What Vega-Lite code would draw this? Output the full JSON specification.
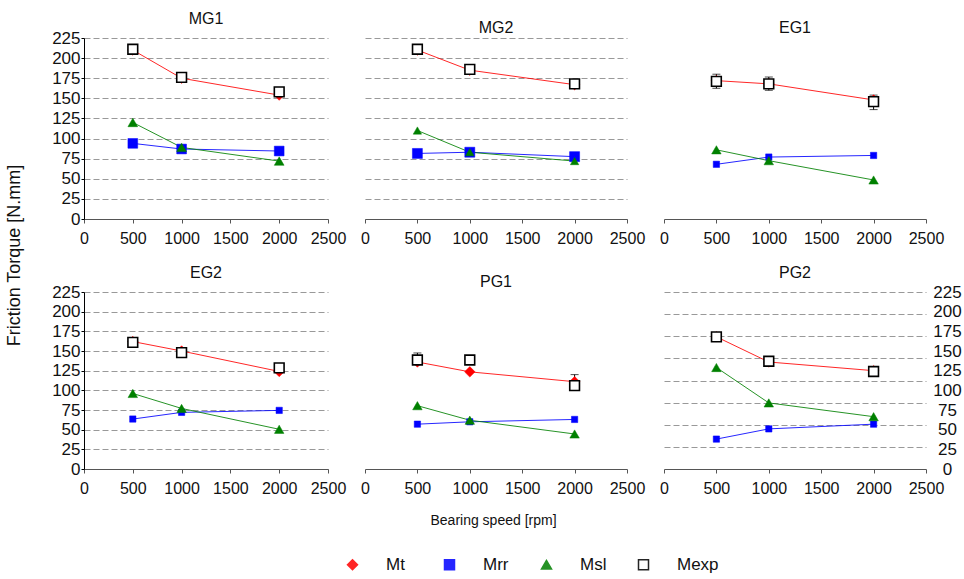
{
 "$schema": "https://vega.github.io/schema/vega-lite/v6.json",
 "padding": {"left": 5, "top": 11, "right": 2, "bottom": 2},
 "background": "white",
 "datasets": {
  "torque": [
   {"panel": "MG1", "series": "Mt", "speed": 500, "value": 210},
   {"panel": "MG1", "series": "Mt", "speed": 1000, "value": 175},
   {"panel": "MG1", "series": "Mt", "speed": 2000, "value": 154},
   {"panel": "MG1", "series": "Mrr", "speed": 500, "value": 94},
   {"panel": "MG1", "series": "Mrr", "speed": 1000, "value": 87},
   {"panel": "MG1", "series": "Mrr", "speed": 2000, "value": 84.5},
   {"panel": "MG1", "series": "Msl", "speed": 500, "value": 120},
   {"panel": "MG1", "series": "Msl", "speed": 1000, "value": 89},
   {"panel": "MG1", "series": "Msl", "speed": 2000, "value": 72},
   {"panel": "MG1", "series": "Mexp", "speed": 500, "value": 211},
   {"panel": "MG1", "series": "Mexp", "speed": 1000, "value": 176},
   {"panel": "MG1", "series": "Mexp", "speed": 2000, "value": 158},
   {"panel": "MG2", "series": "Mt", "speed": 500, "value": 210},
   {"panel": "MG2", "series": "Mt", "speed": 1000, "value": 185},
   {"panel": "MG2", "series": "Mt", "speed": 2000, "value": 167},
   {"panel": "MG2", "series": "Mrr", "speed": 500, "value": 81.5},
   {"panel": "MG2", "series": "Mrr", "speed": 1000, "value": 83},
   {"panel": "MG2", "series": "Mrr", "speed": 2000, "value": 77.5},
   {"panel": "MG2", "series": "Msl", "speed": 500, "value": 110},
   {"panel": "MG2", "series": "Msl", "speed": 1000, "value": 83},
   {"panel": "MG2", "series": "Msl", "speed": 2000, "value": 72},
   {"panel": "MG2", "series": "Mexp", "speed": 500, "value": 211},
   {"panel": "MG2", "series": "Mexp", "speed": 1000, "value": 186},
   {"panel": "MG2", "series": "Mexp", "speed": 2000, "value": 168},
   {"panel": "EG1", "series": "Mt", "speed": 500, "value": 172},
   {"panel": "EG1", "series": "Mt", "speed": 1000, "value": 168},
   {"panel": "EG1", "series": "Mt", "speed": 2000, "value": 148},
   {"panel": "EG1", "series": "Mrr", "speed": 500, "value": 68},
   {"panel": "EG1", "series": "Mrr", "speed": 1000, "value": 77},
   {"panel": "EG1", "series": "Mrr", "speed": 2000, "value": 79},
   {"panel": "EG1", "series": "Msl", "speed": 500, "value": 86},
   {"panel": "EG1", "series": "Msl", "speed": 1000, "value": 72.5},
   {"panel": "EG1", "series": "Msl", "speed": 2000, "value": 48.5},
   {"panel": "EG1", "series": "Mexp", "speed": 500, "value": 171},
   {"panel": "EG1", "series": "Mexp", "speed": 1000, "value": 168},
   {"panel": "EG1", "series": "Mexp", "speed": 2000, "value": 146},
   {"panel": "EG2", "series": "Mt", "speed": 500, "value": 162},
   {"panel": "EG2", "series": "Mt", "speed": 1000, "value": 150},
   {"panel": "EG2", "series": "Mt", "speed": 2000, "value": 124},
   {"panel": "EG2", "series": "Mrr", "speed": 500, "value": 63.5},
   {"panel": "EG2", "series": "Mrr", "speed": 1000, "value": 72},
   {"panel": "EG2", "series": "Mrr", "speed": 2000, "value": 74.5},
   {"panel": "EG2", "series": "Msl", "speed": 500, "value": 96},
   {"panel": "EG2", "series": "Msl", "speed": 1000, "value": 77},
   {"panel": "EG2", "series": "Msl", "speed": 2000, "value": 50.5},
   {"panel": "EG2", "series": "Mexp", "speed": 500, "value": 161},
   {"panel": "EG2", "series": "Mexp", "speed": 1000, "value": 148},
   {"panel": "EG2", "series": "Mexp", "speed": 2000, "value": 128.5},
   {"panel": "PG1", "series": "Mt", "speed": 500, "value": 136},
   {"panel": "PG1", "series": "Mt", "speed": 1000, "value": 123.5},
   {"panel": "PG1", "series": "Mt", "speed": 2000, "value": 111},
   {"panel": "PG1", "series": "Mrr", "speed": 500, "value": 57},
   {"panel": "PG1", "series": "Mrr", "speed": 1000, "value": 60},
   {"panel": "PG1", "series": "Mrr", "speed": 2000, "value": 63},
   {"panel": "PG1", "series": "Msl", "speed": 500, "value": 80.5},
   {"panel": "PG1", "series": "Msl", "speed": 1000, "value": 62},
   {"panel": "PG1", "series": "Msl", "speed": 2000, "value": 44.5},
   {"panel": "PG1", "series": "Mexp", "speed": 500, "value": 138.5},
   {"panel": "PG1", "series": "Mexp", "speed": 1000, "value": 138.5},
   {"panel": "PG1", "series": "Mexp", "speed": 2000, "value": 106},
   {"panel": "PG2", "series": "Mt", "speed": 500, "value": 168},
   {"panel": "PG2", "series": "Mt", "speed": 1000, "value": 136},
   {"panel": "PG2", "series": "Mt", "speed": 2000, "value": 125},
   {"panel": "PG2", "series": "Mrr", "speed": 500, "value": 38},
   {"panel": "PG2", "series": "Mrr", "speed": 1000, "value": 51},
   {"panel": "PG2", "series": "Mrr", "speed": 2000, "value": 57},
   {"panel": "PG2", "series": "Msl", "speed": 500, "value": 129},
   {"panel": "PG2", "series": "Msl", "speed": 1000, "value": 84},
   {"panel": "PG2", "series": "Msl", "speed": 2000, "value": 66.5},
   {"panel": "PG2", "series": "Mexp", "speed": 500, "value": 168},
   {"panel": "PG2", "series": "Mexp", "speed": 1000, "value": 137},
   {"panel": "PG2", "series": "Mexp", "speed": 2000, "value": 124}
  ],
  "err": [
   {"panel": "EG1", "speed": 500, "lo": 162.5, "hi": 180},
   {"panel": "EG1", "speed": 1000, "lo": 160, "hi": 176.5},
   {"panel": "EG1", "speed": 2000, "lo": 136, "hi": 154},
   {"panel": "PG1", "speed": 500, "lo": 133, "hi": 147.5},
   {"panel": "PG1", "speed": 2000, "lo": 100, "hi": 120}
  ]
 },
 "columns": 3,
 "spacing": {"row": 73, "column": 37},
 "align": "each",
 "bounds": "flush",
 "concat": [
  {
   "title": "MG1", "width": 244, "height": 181,
   "data": {"name": "torque"},
   "transform": [{"filter": "datum.panel === 'MG1'"}],
   "encoding": {
    "x": {"field": "speed", "type": "quantitative", "scale": {"domain": [0, 2500], "nice": false, "zero": false},
     "axis": {"values": [0, 500, 1000, 1500, 2000, 2500], "format": "d", "title": null, "grid": false, "tickSize": 4, "labelPadding": 7, "labelFontSize": 16, "domainColor": "#555", "tickColor": "#555"}},
    "y": {"field": "value", "type": "quantitative", "scale": {"domain": [0, 225], "nice": false},
     "axis": {"values": [0, 25, 50, 75, 100, 125, 150, 175, 200, 225], "title": "Friction Torque [N.mm]", "titleX": -70, "titleY": 217, "titleAngle": 270, "titleAlign": "center", "titleBaseline": "middle", "titleFontSize": 18, "titleFontWeight": "normal", "grid": true, "tickSize": 3, "labelPadding": 1, "labelFontSize": 17, "domainColor": "#000", "tickColor": "#000"}}
   },
   "layer": [
    {"transform": [{"filter": "datum.series !== 'Mexp'"}], "mark": {"type": "line", "strokeWidth": 1, "opacity": 0.85},
     "encoding": {"stroke": {"field": "series", "type": "nominal", "scale": {"domain": ["Mt", "Mrr", "Msl", "Mexp"], "range": ["#ff0000", "#0000ff", "#008000", "#000000"]}}}},
    {"mark": {"type": "point", "filled": true, "opacity": 1},
     "encoding": {
      "shape": {"field": "series", "type": "nominal", "scale": {"domain": ["Mt", "Mrr", "Msl", "Mexp"], "range": ["diamond", "square", "triangle-up", "square"]}},
      "fill": {"field": "series", "type": "nominal", "scale": {"domain": ["Mt", "Mrr", "Msl", "Mexp"], "range": ["#ff0000", "#0000ff", "#008000", "#ffffff"]}},
      "stroke": {"field": "series", "type": "nominal", "scale": {"domain": ["Mt", "Mrr", "Msl", "Mexp"], "range": ["#ff0000", "#0000ff", "#008000", "#000000"]}},
      "strokeWidth": {"condition": {"test": "datum.series === 'Mexp'", "value": 1.6}, "value": 0.5},
      "size": {"condition": [{"test": "datum.series === 'Mexp'", "value": 95}, {"test": "datum.series === 'Mt'", "value": 110}], "value": 95}
     }}
   ]
  },
  {
   "title": "MG2", "width": 262, "height": 181,
   "data": {"name": "torque"},
   "transform": [{"filter": "datum.panel === 'MG2'"}],
   "encoding": {
    "x": {"field": "speed", "type": "quantitative", "scale": {"domain": [0, 2500], "nice": false, "zero": false},
     "axis": {"values": [0, 500, 1000, 1500, 2000, 2500], "format": "d", "title": null, "grid": false, "tickSize": 4, "labelPadding": 7, "labelFontSize": 16, "domainColor": "#555", "tickColor": "#555"}},
    "y": {"field": "value", "type": "quantitative", "scale": {"domain": [0, 225], "nice": false},
     "axis": {"values": [0, 25, 50, 75, 100, 125, 150, 175, 200, 225], "title": null, "labels": false, "ticks": false, "domain": false, "grid": true}}
   },
   "layer": [
    {"transform": [{"filter": "datum.series !== 'Mexp'"}], "mark": {"type": "line", "strokeWidth": 1, "opacity": 0.85},
     "encoding": {"stroke": {"field": "series", "type": "nominal", "scale": {"domain": ["Mt", "Mrr", "Msl", "Mexp"], "range": ["#ff0000", "#0000ff", "#008000", "#000000"]}}}},
    {"mark": {"type": "point", "filled": true, "opacity": 1},
     "encoding": {
      "shape": {"field": "series", "type": "nominal", "scale": {"domain": ["Mt", "Mrr", "Msl", "Mexp"], "range": ["diamond", "square", "triangle-up", "square"]}},
      "fill": {"field": "series", "type": "nominal", "scale": {"domain": ["Mt", "Mrr", "Msl", "Mexp"], "range": ["#ff0000", "#0000ff", "#008000", "#ffffff"]}},
      "stroke": {"field": "series", "type": "nominal", "scale": {"domain": ["Mt", "Mrr", "Msl", "Mexp"], "range": ["#ff0000", "#0000ff", "#008000", "#000000"]}},
      "strokeWidth": {"condition": {"test": "datum.series === 'Mexp'", "value": 1.6}, "value": 0.5},
      "size": {"condition": [{"test": "datum.series === 'Mexp'", "value": 95}, {"test": "datum.series === 'Mt'", "value": 110}, {"test": "datum.series === 'Msl'", "value": 70}], "value": 100}
     }}
   ]
  },
  {
   "title": "EG1", "width": 262, "height": 181,
   "data": {"name": "torque"},
   "transform": [{"filter": "datum.panel === 'EG1'"}],
   "encoding": {
    "x": {"field": "speed", "type": "quantitative", "scale": {"domain": [0, 2500], "nice": false, "zero": false},
     "axis": {"values": [0, 500, 1000, 1500, 2000, 2500], "format": "d", "title": null, "grid": false, "tickSize": 4, "labelPadding": 7, "labelFontSize": 16, "domainColor": "#555", "tickColor": "#555"}},
    "y": {"field": "value", "type": "quantitative", "scale": {"domain": [0, 225], "nice": false},
     "axis": {"orient": "right", "values": [0, 25, 50, 75, 100, 125, 150, 175, 200, 225], "title": null, "ticks": false, "domain": false, "grid": true, "labelAlign": "center", "labelPadding": 21, "labelFontSize": 17}}
   },
   "layer": [
    {"transform": [{"filter": "datum.series !== 'Mexp'"}], "mark": {"type": "line", "strokeWidth": 1, "opacity": 0.85},
     "encoding": {"stroke": {"field": "series", "type": "nominal", "scale": {"domain": ["Mt", "Mrr", "Msl", "Mexp"], "range": ["#ff0000", "#0000ff", "#008000", "#000000"]}}}},
    {"data": {"name": "err"}, "transform": [{"filter": "datum.panel === 'EG1'"}],
     "mark": {"type": "errorbar", "color": "#000000", "ticks": {"size": 8, "color": "#000000"}},
     "encoding": {"y": {"field": "lo", "type": "quantitative", "axis": null, "scale": {"domain": [0, 225], "nice": false}}, "y2": {"field": "hi"}}},
    {"mark": {"type": "point", "filled": true, "opacity": 1},
     "encoding": {
      "shape": {"field": "series", "type": "nominal", "scale": {"domain": ["Mt", "Mrr", "Msl", "Mexp"], "range": ["diamond", "square", "triangle-up", "square"]}},
      "fill": {"field": "series", "type": "nominal", "scale": {"domain": ["Mt", "Mrr", "Msl", "Mexp"], "range": ["#ff0000", "#0000ff", "#008000", "#ffffff"]}},
      "stroke": {"field": "series", "type": "nominal", "scale": {"domain": ["Mt", "Mrr", "Msl", "Mexp"], "range": ["#ff0000", "#0000ff", "#008000", "#000000"]}},
      "strokeWidth": {"condition": {"test": "datum.series === 'Mexp'", "value": 1.6}, "value": 0.5},
      "size": {"condition": [{"test": "datum.series === 'Mexp'", "value": 95}, {"test": "datum.series === 'Mt'", "value": 110}, {"test": "datum.series === 'Msl'", "value": 90}], "value": 40}
     }}
   ]
  },
  {
   "title": "EG2", "width": 244, "height": 177,
   "data": {"name": "torque"},
   "transform": [{"filter": "datum.panel === 'EG2'"}],
   "encoding": {
    "x": {"field": "speed", "type": "quantitative", "scale": {"domain": [0, 2500], "nice": false, "zero": false},
     "axis": {"values": [0, 500, 1000, 1500, 2000, 2500], "format": "d", "title": null, "grid": false, "tickSize": 4, "labelPadding": 7, "labelFontSize": 16, "domainColor": "#555", "tickColor": "#555"}},
    "y": {"field": "value", "type": "quantitative", "scale": {"domain": [0, 225], "nice": false},
     "axis": {"values": [0, 25, 50, 75, 100, 125, 150, 175, 200, 225], "title": null, "grid": true, "tickSize": 3, "labelPadding": 1, "labelFontSize": 17, "domainColor": "#000", "tickColor": "#000"}}
   },
   "layer": [
    {"transform": [{"filter": "datum.series !== 'Mexp'"}], "mark": {"type": "line", "strokeWidth": 1, "opacity": 0.85},
     "encoding": {"stroke": {"field": "series", "type": "nominal", "scale": {"domain": ["Mt", "Mrr", "Msl", "Mexp"], "range": ["#ff0000", "#0000ff", "#008000", "#000000"]}}}},
    {"mark": {"type": "point", "filled": true, "opacity": 1},
     "encoding": {
      "shape": {"field": "series", "type": "nominal", "scale": {"domain": ["Mt", "Mrr", "Msl", "Mexp"], "range": ["diamond", "square", "triangle-up", "square"]}},
      "fill": {"field": "series", "type": "nominal", "scale": {"domain": ["Mt", "Mrr", "Msl", "Mexp"], "range": ["#ff0000", "#0000ff", "#008000", "#ffffff"]}},
      "stroke": {"field": "series", "type": "nominal", "scale": {"domain": ["Mt", "Mrr", "Msl", "Mexp"], "range": ["#ff0000", "#0000ff", "#008000", "#000000"]}},
      "strokeWidth": {"condition": {"test": "datum.series === 'Mexp'", "value": 1.6}, "value": 0.5},
      "size": {"condition": [{"test": "datum.series === 'Mexp'", "value": 95}, {"test": "datum.series === 'Mt'", "value": 110}, {"test": "datum.series === 'Msl'", "value": 90}], "value": 40}
     }}
   ]
  },
  {
   "title": "PG1", "width": 262, "height": 177,
   "data": {"name": "torque"},
   "transform": [{"filter": "datum.panel === 'PG1'"}],
   "encoding": {
    "x": {"field": "speed", "type": "quantitative", "scale": {"domain": [0, 2500], "nice": false, "zero": false},
     "axis": {"values": [0, 500, 1000, 1500, 2000, 2500], "format": "d", "title": "Bearing speed [rpm]", "titleX": 128, "titleY": 51, "titleAlign": "center", "titleBaseline": "middle", "titleFontSize": 14, "titleFontWeight": "normal", "grid": false, "tickSize": 4, "labelPadding": 7, "labelFontSize": 16, "domainColor": "#555", "tickColor": "#555"}},
    "y": {"field": "value", "type": "quantitative", "scale": {"domain": [0, 225], "nice": false},
     "axis": {"values": [28.125, 56.25, 84.375, 112.5, 140.625, 168.75, 196.875, 225], "title": null, "labels": false, "ticks": false, "domain": false, "grid": true}}
   },
   "layer": [
    {"transform": [{"filter": "datum.series !== 'Mexp'"}], "mark": {"type": "line", "strokeWidth": 1, "opacity": 0.85},
     "encoding": {"stroke": {"field": "series", "type": "nominal", "scale": {"domain": ["Mt", "Mrr", "Msl", "Mexp"], "range": ["#ff0000", "#0000ff", "#008000", "#000000"]}}}},
    {"data": {"name": "err"}, "transform": [{"filter": "datum.panel === 'PG1'"}],
     "mark": {"type": "errorbar", "color": "#000000", "ticks": {"size": 8, "color": "#000000"}},
     "encoding": {"y": {"field": "lo", "type": "quantitative", "axis": null, "scale": {"domain": [0, 225], "nice": false}}, "y2": {"field": "hi"}}},
    {"mark": {"type": "point", "filled": true, "opacity": 1},
     "encoding": {
      "shape": {"field": "series", "type": "nominal", "scale": {"domain": ["Mt", "Mrr", "Msl", "Mexp"], "range": ["diamond", "square", "triangle-up", "square"]},
       "legend": {"title": null, "orient": "none", "direction": "horizontal", "legendX": 260, "legendY": 518,
        "symbolSize": 100, "symbolStrokeWidth": 1.5, "symbolOpacity": 1, "labelFontSize": 17, "labelFont": "Liberation Sans", "labelColor": "#111", "labelOffset": 25, "columnPadding": 13, "gridAlign": "all"}},
      "fill": {"field": "series", "type": "nominal", "scale": {"domain": ["Mt", "Mrr", "Msl", "Mexp"], "range": ["#ff0000", "#0000ff", "#008000", "#ffffff"]}},
      "stroke": {"field": "series", "type": "nominal", "scale": {"domain": ["Mt", "Mrr", "Msl", "Mexp"], "range": ["#ff0000", "#0000ff", "#008000", "#000000"]}},
      "strokeWidth": {"condition": {"test": "datum.series === 'Mexp'", "value": 1.6}, "value": 0.5},
      "size": {"condition": [{"test": "datum.series === 'Mexp'", "value": 95}, {"test": "datum.series === 'Mt'", "value": 110}, {"test": "datum.series === 'Msl'", "value": 90}], "value": 40}
     }}
   ]
  },
  {
   "title": "PG2", "width": 262, "height": 177,
   "data": {"name": "torque"},
   "transform": [{"filter": "datum.panel === 'PG2'"}],
   "encoding": {
    "x": {"field": "speed", "type": "quantitative", "scale": {"domain": [0, 2500], "nice": false, "zero": false},
     "axis": {"values": [0, 500, 1000, 1500, 2000, 2500], "format": "d", "title": null, "grid": false, "tickSize": 4, "labelPadding": 7, "labelFontSize": 16, "domainColor": "#555", "tickColor": "#555"}},
    "y": {"field": "value", "type": "quantitative", "scale": {"domain": [0, 225], "nice": false},
     "axis": {"orient": "right", "values": [0, 25, 50, 75, 100, 125, 150, 175, 200, 225], "title": null, "ticks": false, "domain": false, "grid": false, "labelAlign": "center", "labelPadding": 21, "labelFontSize": 17}}
   },
   "layer": [
    {"transform": [{"filter": "datum.series !== 'Mexp'"}], "mark": {"type": "line", "strokeWidth": 1, "opacity": 0.85},
     "encoding": {"stroke": {"field": "series", "type": "nominal", "scale": {"domain": ["Mt", "Mrr", "Msl", "Mexp"], "range": ["#ff0000", "#0000ff", "#008000", "#000000"]}}}},
    {"mark": {"type": "point", "filled": true, "opacity": 1},
     "encoding": {
      "y": {"field": "value", "type": "quantitative", "scale": {"domain": [0, 225], "nice": false},
       "axis": {"orient": "left", "values": [28.125, 56.25, 84.375, 112.5, 140.625, 168.75, 196.875, 225], "title": null, "labels": false, "ticks": false, "domain": false, "grid": true}},
      "shape": {"field": "series", "type": "nominal", "scale": {"domain": ["Mt", "Mrr", "Msl", "Mexp"], "range": ["diamond", "square", "triangle-up", "square"]}},
      "fill": {"field": "series", "type": "nominal", "scale": {"domain": ["Mt", "Mrr", "Msl", "Mexp"], "range": ["#ff0000", "#0000ff", "#008000", "#ffffff"]}},
      "stroke": {"field": "series", "type": "nominal", "scale": {"domain": ["Mt", "Mrr", "Msl", "Mexp"], "range": ["#ff0000", "#0000ff", "#008000", "#000000"]}},
      "strokeWidth": {"condition": {"test": "datum.series === 'Mexp'", "value": 1.6}, "value": 0.5},
      "size": {"condition": [{"test": "datum.series === 'Mexp'", "value": 95}, {"test": "datum.series === 'Mt'", "value": 110}, {"test": "datum.series === 'Msl'", "value": 90}], "value": 40}
     }}
   ],
   "resolve": {"axis": {"y": "independent"}}
  }
 ],
 "config": {
  "view": {"stroke": null},
  "font": "Liberation Sans",
  "axis": {"labelFont": "Liberation Sans", "titleFont": "Liberation Sans", "labelColor": "#111", "titleColor": "#111", "gridColor": "#999999", "gridDash": [6, 3], "gridWidth": 1, "labelFlush": false, "labelOverlap": false},
  "title": {"font": "Liberation Sans", "fontSize": 16, "fontWeight": "normal", "color": "#111", "offset": 2, "anchor": "middle"},
  "legend": {"labelFont": "Liberation Sans"}
 }
}
